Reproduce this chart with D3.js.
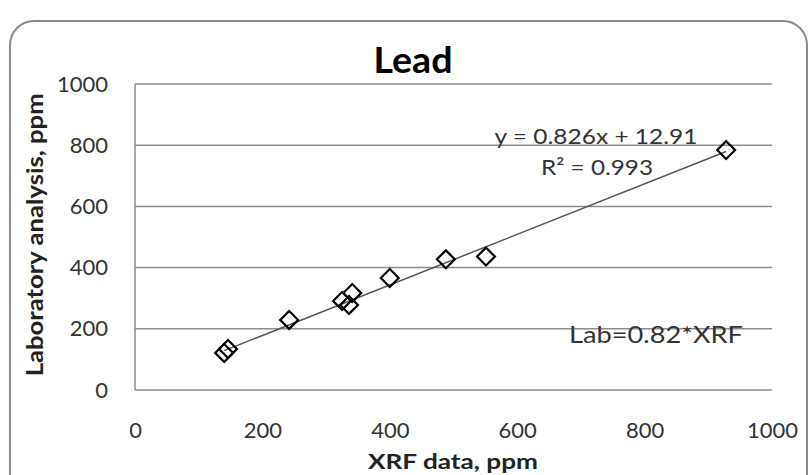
<!DOCTYPE html>
<html>
<head>
<meta charset="utf-8">
<script src="https://cdn.jsdelivr.net/npm/d3@7"></script>
<style>
  body { margin: 0; background: #fff; }
  svg text { font-family: Lato, "Open Sans", sans-serif; }
</style>
</head>
<body>
<svg id="chart" width="810" height="475"></svg>
<script>
// XRF vs laboratory values
const xrf = [140, 146, 242, 325, 336, 341, 400, 488, 551, 928];
const lab = [121, 134, 229, 291, 278, 317, 366, 427, 436, 784];

const xTicks = [0, 200, 400, 600, 800, 1000];
const yTicks = [0, 200, 400, 600, 800, 1000];

const slope = 0.826;
const intercept = 12.91;

const svg = d3.select('#chart');

const margin = { top: 84, right: 38, bottom: 85, left: 135 };
const width = +svg.attr('width');
const height = +svg.attr('height');

// outer frame
svg.append('rect')
  .attr('x', 10).attr('y', 21)
  .attr('width', 797).attr('height', 480)
  .attr('rx', 24).attr('ry', 24)
  .attr('fill', '#fff')
  .attr('stroke', '#8a8a8a')
  .attr('stroke-width', 2);

const xScale = d3.scaleLinear()
  .domain([0, 1000])
  .range([margin.left, width - margin.right]);

const yScale = d3.scaleLinear()
  .domain([0, 1000])
  .range([height - margin.bottom, margin.top]);

// grid lines
svg.append('g')
  .selectAll('line')
  .data(yTicks)
  .enter()
  .append('line')
  .attr('x1', xScale(0))
  .attr('x2', xScale(1000))
  .attr('y1', d => yScale(d))
  .attr('y2', d => yScale(d))
  .attr('stroke', '#8c8c8c')
  .attr('stroke-width', 1.5);

// left border of plot area
svg.append('line')
  .attr('x1', xScale(0)).attr('x2', xScale(0))
  .attr('y1', yScale(0)).attr('y2', yScale(1000))
  .attr('stroke', '#8c8c8c')
  .attr('stroke-width', 1.5);

const xAxis = d3.axisBottom(xScale).tickValues(xTicks).tickFormat(d3.format('d')).tickSize(0).tickPadding(32);
const yAxis = d3.axisLeft(yScale).tickValues(yTicks).tickFormat(d3.format('d')).tickSize(0).tickPadding(0);

svg.append('g')
  .attr('transform', 'translate(0,' + yScale(0) + ')')
  .call(xAxis)
  .call(g => g.select('.domain').remove())
  .selectAll('text')
  .style('font-size', '22px')
  .style('fill', '#333')
  .style('font-family', 'Lato, "Open Sans", sans-serif');

svg.append('g')
  .attr('transform', 'translate(' + (xScale(0) - 27) + ',0)')
  .call(yAxis)
  .call(g => g.select('.domain').remove())
  .selectAll('text')
  .style('font-size', '22px')
  .style('fill', '#333')
  .style('font-family', 'Lato, "Open Sans", sans-serif');

// trend line
const xMin = d3.min(xrf), xMax = d3.max(xrf);
svg.append('line')
  .attr('x1', xScale(xMin)).attr('y1', yScale(slope * xMin + intercept))
  .attr('x2', xScale(xMax)).attr('y2', yScale(slope * xMax + intercept))
  .attr('stroke', '#555')
  .attr('stroke-width', 1.5);

// diamonds
const diamond = d3.symbol().type(d3.symbolSquare).size(160);
svg.append('g')
  .selectAll('path')
  .data(xrf)
  .enter()
  .append('path')
  .attr('d', diamond)
  .attr('transform', (d, i) => 'translate(' + xScale(d) + ',' + yScale(lab[i]) + ') rotate(45)')
  .attr('fill', 'none')
  .attr('stroke', '#000')
  .attr('stroke-width', 2.2);

// stretched text helper (reference glyphs look wide)
function label(x, y, str, size, len, bold, fill) {
  return svg.append('text')
    .attr('x', x).attr('y', y)
    .attr('text-anchor', 'middle')
    .attr('textLength', len)
    .attr('lengthAdjust', 'spacingAndGlyphs')
    .style('font-size', size + 'px')
    .style('font-weight', bold ? 'bold' : 'normal')
    .style('fill', fill)
    .text(str);
}

label(413, 73, 'Lead', 36, 79, true, '#000');
label(453, 469, 'XRF data, ppm', 21, 170, true, '#222');

svg.append('text')
  .attr('transform', 'translate(43,' + yScale(507) + ') rotate(-90)')
  .attr('text-anchor', 'middle')
  .attr('textLength', 283)
  .attr('lengthAdjust', 'spacingAndGlyphs')
  .style('font-size', '22px')
  .style('font-weight', 'bold')
  .style('fill', '#222')
  .text('Laboratory analysis, ppm');

// equation labels
label(596, 144, 'y = 0.826x + 12.91', 22, 203, false, '#333');
label(597, 175, 'R² = 0.993', 22, 112, false, '#333');
label(656, 343, 'Lab=0.82*XRF', 24, 174, false, '#333');
</script>
</body>
</html>
